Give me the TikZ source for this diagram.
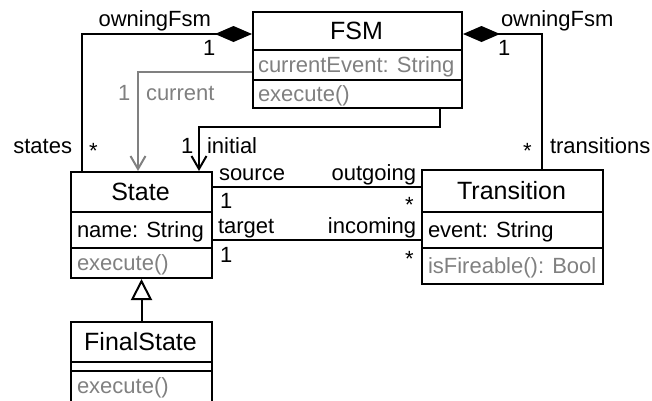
\documentclass[tikz,border=0pt]{standalone}
\usepackage{fontspec}
\setmainfont{Liberation Sans}
\usetikzlibrary{arrows.meta}
\definecolor{umlgray}{RGB}{128,128,128}

\begin{document}
\begin{tikzpicture}[x=1pt,y=-1pt,line width=2pt,
        txt/.style={inner sep=0pt,font=\fontsize{22}{26}\selectfont},
        ttl/.style={inner sep=0pt,font=\fontsize{25}{30}\selectfont,text height=17.9pt,text depth=0pt},
        cmp/.style={txt,anchor=west,text height=15.8pt,text depth=0pt},
        box/.style={draw,inner sep=0pt,anchor=north west},
        comp/.style={{Diamond[length=37pt,width=16pt]}-},
        nav/.style={-{Straight Barb[length=13pt,width=15pt]}},
        gen/.style={-{Triangle[open,length=21pt,width=21pt]}},
        ]
        \useasboundingbox (0,0) rectangle (652,400);
        \node[box,minimum width=209pt,minimum height=96pt] (fsm) at (252,11) {};
        \draw ([yshift=-39pt]fsm.north west) -- ([yshift=-39pt]fsm.north east);
        \draw ([yshift=-69pt]fsm.north west) -- ([yshift=-69pt]fsm.north east);
        \node[ttl] (fsmname) at (356.5,30.5) {FSM};
        \node[cmp,text=umlgray] (fsmattr) at (257,65) {currentEvent: String};
        \node[cmp,text=umlgray] (fsmop) at (257,93.5) {execute()};
        \node[box,minimum width=141pt,minimum height=106pt] (state) at (70,171) {};
        \draw ([yshift=-41pt]state.north west) -- ([yshift=-41pt]state.north east);
        \draw ([yshift=-77pt]state.north west) -- ([yshift=-77pt]state.north east);
        \node[ttl] (statename) at (140.5,191.5) {State};
        \node[cmp] (stateattr) at (76,230) {name: String};
        \node[cmp,text=umlgray] (stateop) at (76,262.5) {execute()};
        \node[box,minimum width=181pt,minimum height=114pt] (transition) at (421,169) {};
        \draw ([yshift=-43pt]transition.north west) -- ([yshift=-43pt]transition.north east);
        \draw ([yshift=-79pt]transition.north west) -- ([yshift=-79pt]transition.north east);
        \node[ttl] (transname) at (511.5,190.5) {Transition};
        \node[cmp] (transattr) at (427,230) {event: String};
        \node[cmp,text=umlgray] (transop) at (427,265.5) {isFireable(): Bool};
        \node[box,minimum width=141pt,minimum height=80pt] (final) at (70,321) {};
        \draw ([yshift=-41pt]final.north west) -- ([yshift=-41pt]final.north east);
        \draw ([yshift=-50pt]final.north west) -- ([yshift=-50pt]final.north east);
        \node[ttl] (finalname) at (140.5,341.5) {FinalState};
        \node[cmp,text=umlgray] (finalop) at (76,385.5) {execute()};
        \draw[comp] ([yshift=-23pt]fsm.north west) -| ([xshift=12pt]state.north west);
        \draw[nav,umlgray] ([yshift=-61pt]fsm.north west) -| ([xshift=68pt]state.north west);
        \draw[nav] ([xshift=-23pt]fsm.south east) -- ++(0,18) -| ([xshift=129pt]state.north west);
        \draw[comp] ([yshift=-23pt]fsm.north east) -| ([xshift=121pt]transition.north west);
        \draw ([yshift=-16pt]state.north east) -- ([yshift=-18pt]transition.north west);
        \draw ([yshift=-69pt]state.north east) -- ([yshift=-71pt]transition.north west);
        \draw[gen] (final.north) -- (state.south);
        \node[txt,anchor=base east] (lowner) at (212,26) {owningFsm};
        \node[txt,anchor=base west] (loneowner) at (202,55) {1};
        \node[txt,anchor=base east] (lstates) at (73,153) {states};
        \node[txt,anchor=base west] (lstarstates) at (88,158) {*};
        \node[txt,anchor=base west,text=umlgray] (lonecur) at (117,100) {1};
        \node[txt,anchor=base west,text=umlgray] (lcur) at (145,100) {current};
        \node[txt,anchor=base west] (loneini) at (180,153) {1};
        \node[txt,anchor=base west] (lini) at (206,153) {initial};
        \node[txt,anchor=base west] (rowner) at (500,26) {owningFsm};
        \node[txt,anchor=base west] (roneowner) at (497,55) {1};
        \node[txt,anchor=base west] (rstartrans) at (522,158) {*};
        \node[txt,anchor=base west] (rtrans) at (549,153) {transitions};
        \node[txt,anchor=base west] (lsrc) at (218,180) {source};
        \node[txt,anchor=base west] (lonesrc) at (219,208) {1};
        \node[txt,anchor=base east] (lout) at (417,180) {outgoing};
        \node[txt,anchor=base west] (lstarout) at (404,212) {*};
        \node[txt,anchor=base west] (ltgt) at (217,233) {target};
        \node[txt,anchor=base west] (lonetgt) at (219,262) {1};
        \node[txt,anchor=base east] (linc) at (417,233) {incoming};
        \node[txt,anchor=base west] (lstarinc) at (404,266) {*};
    \end{tikzpicture}
\end{document}
